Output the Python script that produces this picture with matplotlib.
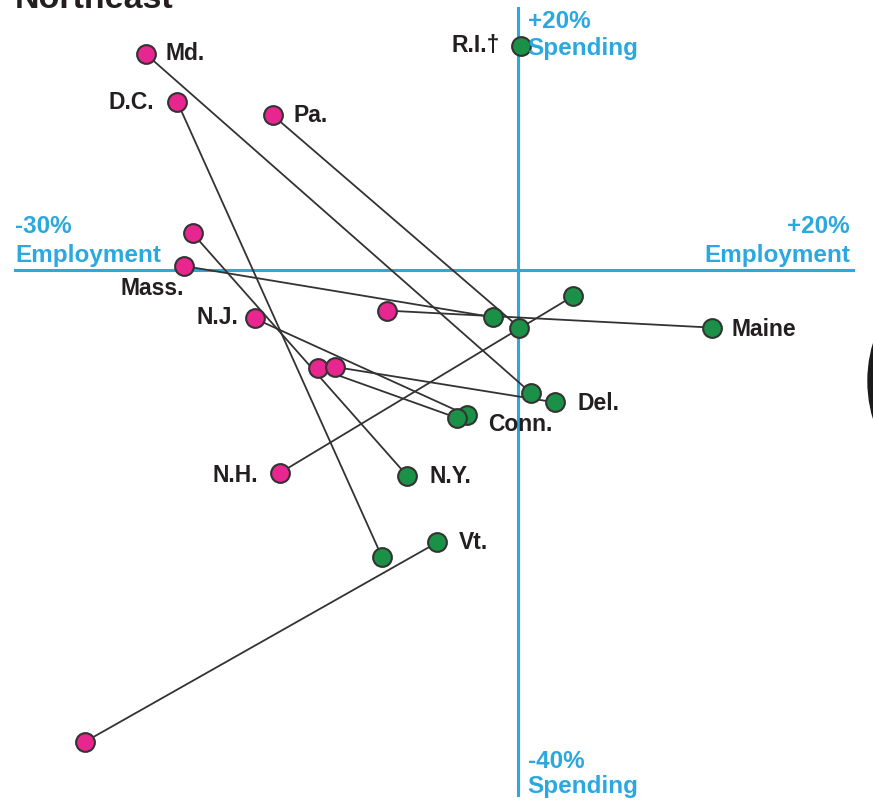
import matplotlib.pyplot as plt
from matplotlib.patches import Circle
from matplotlib.transforms import IdentityTransform

plt.rcParams['font.family'] = ['Liberation Sans', 'DejaVu Sans']

# change in employment (%) and spending (%), start (pink) -> end (green)
states = ['Md.', 'D.C.', 'Pa.', 'N.Y.', 'Mass.', 'Maine', 'N.J.', 'Conn.', 'Del.', 'N.H.', 'Vt.']
emp_start = [-22.2, -20.3, -14.6, -19.4, -19.9, -7.8, -15.7, -11.9, -10.9, -14.2, -25.8]
spend_start = [16.5, 12.8, 11.8, 2.8, 0.3, -3.1, -3.7, -7.5, -7.4, -15.5, -36.0]
emp_end = [0.8, -8.1, 0.1, -6.6, -1.5, 11.6, -3.0, -3.6, 2.2, 3.3, -4.8]
spend_end = [-9.4, -21.9, -4.4, -15.7, -3.6, -4.4, -11.1, -11.3, -10.1, -2.0, -20.8]
# R.I. only has the end point
ri_emp, ri_spend = 0.2, 17.1

# which point carries the label, offset in pixels, alignment
label_pos = {
    'Md.': ('start', 20, 0, 'left'),
    'D.C.': ('start', -23, 0, 'right'),
    'Pa.': ('start', 20, 0, 'left'),
    'N.Y.': ('end', 22, -1, 'left'),
    'Mass.': ('start', 0, -22, 'right'),
    'Maine': ('end', 19, -2, 'left'),
    'N.J.': ('start', -16, 1, 'right'),
    'Conn.': ('end', 31, -6, 'left'),
    'Del.': ('end', 23, -1, 'left'),
    'N.H.': ('start', -22, -2, 'right'),
    'Vt.': ('end', 22, 0, 'left'),
}

pink = '#e8268f'
green = '#1b9147'
blue = '#2aa8df'
ink = '#231f20'

fig = plt.figure(figsize=(8.73, 8.0), dpi=100)
ax = fig.add_axes([0, 0, 1, 1])
ax.set_xlim(-30.89, 21.2)
ax.set_ylim(-40.46, 20.61)
ax.axis('off')

# axes cross
ax.plot([-30, 20], [0, 0], color=blue, lw=2.2, zorder=1)
ax.plot([0, 0], [-40.1, 20], color=blue, lw=2.2, zorder=1)

for i in range(len(states)):
    ax.plot([emp_start[i], emp_end[i]], [spend_start[i], spend_end[i]],
            color='#333333', lw=1.3, zorder=2)

mk = dict(ms=13.5, mec='#333333', mew=1.5, ls='none', zorder=3)
ax.plot(emp_start, spend_start, 'o', mfc=pink, **mk)
ax.plot(emp_end + [ri_emp], spend_end + [ri_spend], 'o', mfc=green, **mk)

lab = dict(fontsize=16.5, fontweight='bold', color=ink, va='center',
           textcoords='offset pixels', zorder=4)
for i, s in enumerate(states):
    end, dx, dy, ha = label_pos[s]
    xy = (emp_start[i], spend_start[i]) if end == 'start' else (emp_end[i], spend_end[i])
    ax.annotate(s, xy, xytext=(dx, dy), ha=ha, **lab)
ax.annotate('R.I.\u2020', (ri_emp, ri_spend), xytext=(-21, 0), ha='right', **lab)

# axis end labels
ax_lab = dict(fontsize=17.5, fontweight='bold', color=blue, va='baseline',
              textcoords='offset pixels')
ax.annotate('-30%', (-30, 0), xytext=(0, 37), ha='left', **ax_lab)
ax.annotate('Employment', (-30, 0), xytext=(0, 8), ha='left', **ax_lab)
ax.annotate('+20%', (20, 0), xytext=(-3, 37), ha='right', **ax_lab)
ax.annotate('Employment', (20, 0), xytext=(-3, 8), ha='right', **ax_lab)
ax.annotate('+20%', (0, 20), xytext=(10, -20), ha='left', **ax_lab)
ax.annotate('Spending', (0, 20), xytext=(10, -47), ha='left', **ax_lab)
ax.annotate('-40%', (0, -40), xytext=(10, 26), ha='left', **ax_lab)
ax.annotate('Spending', (0, -40), xytext=(10, 1), ha='left', **ax_lab)

# title, cut off at the top edge as in the source page
fig.text(15 / 873, 1 - 8 / 800, 'Northeast', fontsize=24.5, fontweight='bold',
         color=ink, va='baseline', ha='left')

# piece of the next panel showing at the right edge
fig.patches.append(Circle((1000, 419), 132, color='#1a1a1a',
                          transform=IdentityTransform(), figure=fig))

fig.savefig('out.png', dpi=100)
